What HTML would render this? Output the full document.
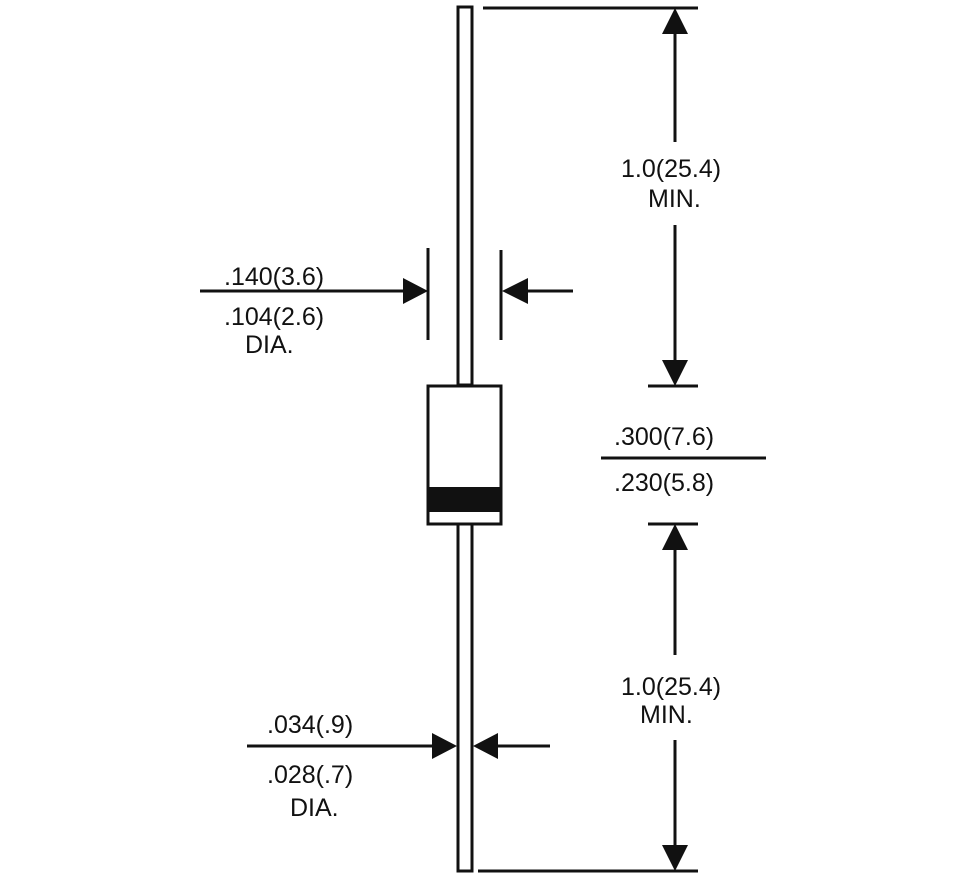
<!DOCTYPE html>
<html><head><style>body{margin:0;background:#fff}</style></head><body>
<svg width="980" height="880" xmlns="http://www.w3.org/2000/svg" font-family="Liberation Sans, Arial, sans-serif" font-size="25" fill="#111">
<g stroke="#111" stroke-width="3" fill="none">
<rect x="458" y="7" width="14" height="378"/>
<rect x="458" y="524" width="14" height="347"/>
<rect x="428" y="386" width="73" height="138"/>
<line x1="483" y1="8" x2="698" y2="8"/>
<line x1="478" y1="871" x2="698" y2="871"/>
<line x1="648" y1="386" x2="698" y2="386"/>
<line x1="648" y1="524" x2="698" y2="524"/>
<line x1="601" y1="458" x2="766" y2="458"/>
<line x1="675" y1="30" x2="675" y2="142"/>
<line x1="675" y1="225" x2="675" y2="362"/>
<line x1="675" y1="545" x2="675" y2="655"/>
<line x1="675" y1="740" x2="675" y2="848"/>
<line x1="428" y1="248" x2="428" y2="340"/>
<line x1="501" y1="250" x2="501" y2="340"/>
<line x1="200" y1="291" x2="405" y2="291"/>
<line x1="525" y1="291" x2="573" y2="291"/>
<line x1="247" y1="746" x2="435" y2="746"/>
<line x1="495" y1="746" x2="550" y2="746"/>
</g>
<rect x="428" y="487" width="73" height="25" fill="#111"/>
<g fill="#111">
<polygon points="675,8 662,34 688,34"/>
<polygon points="675,386 662,360 688,360"/>
<polygon points="675,524 662,550 688,550"/>
<polygon points="675,871 662,845 688,845"/>
<polygon points="428,291 403,278 403,304"/>
<polygon points="502,291 528,278 528,304"/>
<polygon points="457,746 432,733 432,759"/>
<polygon points="473,746 498,733 498,759"/>
</g>
<text x="224" y="285">.140(3.6)</text>
<text x="224" y="325">.104(2.6)</text>
<text x="245" y="353">DIA.</text>
<text x="621" y="177">1.0(25.4)</text>
<text x="648" y="207">MIN.</text>
<text x="614" y="445">.300(7.6)</text>
<text x="614" y="491">.230(5.8)</text>
<text x="621" y="695">1.0(25.4)</text>
<text x="640" y="723">MIN.</text>
<text x="267" y="733">.034(.9)</text>
<text x="267" y="783">.028(.7)</text>
<text x="290" y="816">DIA.</text>
</svg>
</body></html>
